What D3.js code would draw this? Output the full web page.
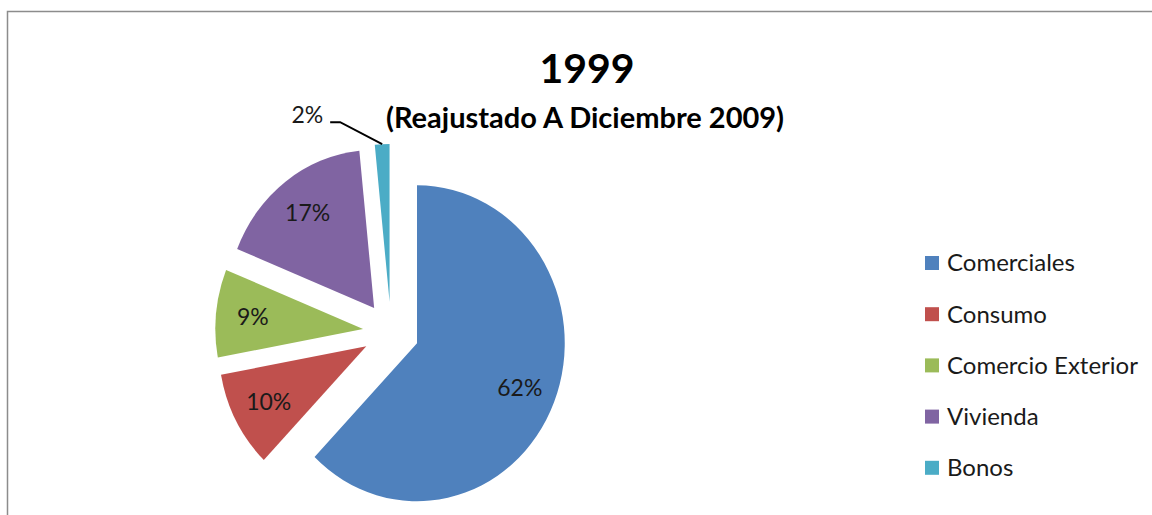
<!DOCTYPE html>
<html>
<head>
<meta charset="utf-8">
<script src="https://cdn.jsdelivr.net/npm/d3@7"></script>
<style>
  body { margin: 0; background: #fff; }
  svg { display: block; font-family: Lato, "Open Sans", sans-serif; }
</style>
</head>
<body>
<div id="chart"></div>
<script>
// loan portfolio shares, 1999 (readjusted to Dec 2009)
var categories = ['Comerciales', 'Consumo', 'Comercio Exterior', 'Vivienda', 'Bonos'];
var shares = [62.2, 9.9, 9.0, 17.3, 1.6];
var colors = ['#4F81BD', '#C0504D', '#9BBB59', '#8064A2', '#4BACC6'];
var titleLines = ['1999', '(Reajustado A Diciembre 2009)'];

var width = 1152, height = 515;
var cx = 391, cy = 332;
var radius = 158;
var squeeze = 0.935;   // pie is drawn a little narrower than tall
var explode = 30;
var fmt = d3.format('.0%');

var svg = d3.select('#chart').append('svg')
    .attr('width', width)
    .attr('height', height);

// chart area frame, runs off the right and bottom edges
svg.append('rect')
    .attr('x', 7.5)
    .attr('y', 11.5)
    .attr('width', 1300)
    .attr('height', 700)
    .style('fill', 'none')
    .style('stroke', '#8c8c8c')
    .style('stroke-width', 1.5);

svg.append('text')
    .attr('x', 587)
    .attr('y', 83)
    .attr('text-anchor', 'middle')
    .style('font-size', '41px')
    .style('font-weight', 'bold')
    .style('fill', '#000')
    .text(titleLines[0]);

svg.append('text')
    .attr('x', 585)
    .attr('y', 128)
    .attr('text-anchor', 'middle')
    .style('font-size', '29px')
    .style('font-weight', 'bold')
    .style('fill', '#000')
    .text(titleLines[1]);

var pie = d3.pie().sort(null).value(function (d) { return d; });
var arcs = pie(shares);
var arc = d3.arc().innerRadius(0).outerRadius(radius);

function dir(d) {
    var a = (d.startAngle + d.endAngle) / 2;
    return [Math.sin(a), -Math.cos(a)];
}
// screen position of a point k*radius out from a slice's (exploded) apex
function place(d, k) {
    var v = dir(d);
    var dist = explode + k * radius;
    return [cx + squeeze * dist * v[0], cy + dist * v[1]];
}

var pieG = svg.append('g')
    .attr('transform', 'translate(' + cx + ',' + cy + ') scale(' + squeeze + ',1)');

pieG.selectAll('path')
    .data(arcs)
    .enter()
    .append('path')
    .attr('d', arc)
    .attr('transform', function (d) {
        var v = dir(d);
        return 'translate(' + (explode * v[0]) + ',' + (explode * v[1]) + ')';
    })
    .style('fill', function (d, i) { return colors[i]; });

var total = d3.sum(shares);

arcs.forEach(function (d, i) {
    var txt = fmt(d.value / total);
    if (d.value >= 5) {
        var p = place(d, 0.75);
        svg.append('text')
            .attr('x', p[0])
            .attr('y', p[1])
            .attr('text-anchor', 'middle')
            .attr('dy', '0.35em')
            .style('font-size', '23px')
            .style('fill', '#1a1a1a')
            .text(txt);
    } else {
        // small slice: label outside with a leader line
        var o = place(d, 1);
        var elbow = [o[0] - 42, o[1] - 22];
        var end = [elbow[0] - 10, elbow[1]];
        svg.append('path')
            .attr('d', d3.line()([o, elbow, end]))
            .style('fill', 'none')
            .style('stroke', '#000')
            .style('stroke-width', 2);
        svg.append('text')
            .attr('x', end[0] - 7)
            .attr('y', end[1] + 1)
            .attr('text-anchor', 'end')
            .style('font-size', '23px')
            .style('fill', '#1a1a1a')
            .text(txt);
    }
});

var legend = svg.append('g')
    .attr('transform', 'translate(925,263)');

var rows = legend.selectAll('g')
    .data(categories)
    .enter()
    .append('g')
    .attr('transform', function (d, i) { return 'translate(0,' + (i * 51.2) + ')'; });

rows.append('rect')
    .attr('x', 0)
    .attr('y', -7)
    .attr('width', 14)
    .attr('height', 14)
    .style('fill', function (d, i) { return colors[i]; });

rows.append('text')
    .attr('x', 22)
    .attr('dy', '0.35em')
    .style('font-size', '24px')
    .style('fill', '#1a1a1a')
    .text(function (d) { return d; });
</script>
</body>
</html>
